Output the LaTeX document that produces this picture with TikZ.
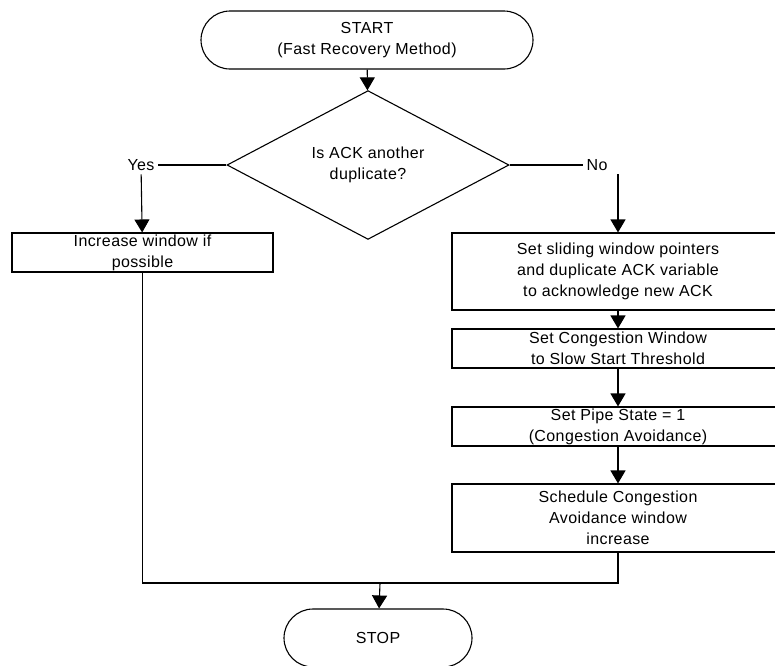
\documentclass[tikz,border=0pt]{standalone}
\usepackage{fontspec}
\setmainfont{Liberation Sans}[LetterSpace=2.5]
\usetikzlibrary{shapes.geometric,shapes.misc,arrows.meta}

\begin{document}
\begin{tikzpicture}[x=1pt,y=-1pt,line width=1.1pt,
    font=\fontsize{16}{21}\selectfont,
    >={Triangle[width=15pt,length=13pt]},
    terminal/.style={rounded rectangle,draw,minimum height=58pt,inner sep=0pt,align=center},
    decision/.style={diamond,draw,minimum width=282pt,minimum height=135pt,inner sep=0pt,align=center},
    process/.style={rectangle,draw,minimum width=332pt,inner sep=0pt,align=center}]
    \useasboundingbox (0,0) rectangle (775,665);

    \node(start)[terminal,minimum width=332pt] at (367,40) {START\\(Fast Recovery Method)};
    \node(dec)[decision] at (368,165) {Is ACK another\\duplicate?};
    \node(yes) at (141,165) {Yes};
    \node(no) at (597,165) {No};

    \node(inc)[process,minimum width=261pt,minimum height=39pt] at (142.5,252.5) {Increase window if\\possible};
    \node(ptrs)[process,minimum height=77pt] at (618,271.5) {Set sliding window pointers\\and duplicate ACK variable\\to acknowledge new ACK};
    \node(cwnd)[process,minimum height=39pt] at (618,348.5) {Set Congestion Window\\to Slow Start Threshold};
    \node(pipe)[process,minimum height=39pt] at (618,426.5) {Set Pipe State = 1\\(Congestion Avoidance)};
    \node(sched)[process,minimum height=68pt] at (618,518) {Schedule Congestion\\Avoidance window\\increase};

    \coordinate(join) at (380,583);
    \node(stop)[terminal,minimum width=188pt] at (378,638) {STOP};

    \draw[->] (start) -- (dec);
    \draw (dec) -- (yes);
    \draw (dec) -- (no);
    \draw[->] (yes) -- (inc);
    \draw[->] (no.south -| ptrs) -- (ptrs);
    \draw[->] (ptrs) -- (cwnd);
    \draw[->] (cwnd) -- (pipe);
    \draw[->] (pipe) -- (sched);

    % both branches meet above STOP
    \draw (inc) |- (join) -| (sched);
    \draw[->] (join) -- (stop);
\end{tikzpicture}
\end{document}
